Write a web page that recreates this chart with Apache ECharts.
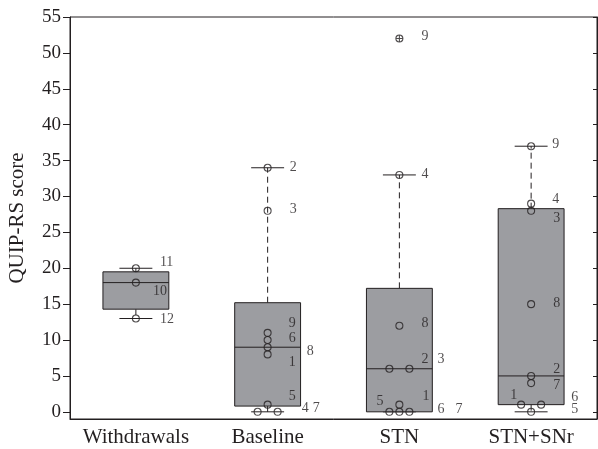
<!DOCTYPE html>
<html>
<head>
<meta charset="utf-8">
<script src="https://cdn.jsdelivr.net/npm/echarts@6/dist/echarts.min.js"></script>
<style>
  html, body { margin: 0; padding: 0; background: #fff; }
  #chart { width: 598px; height: 449px; }
</style>
</head>
<body>
<div id="chart"></div>
<script>
const categories = ["Withdrawals", "Baseline", "STN", "STN+SNr"];

// box statistics per group
const boxLow = [13, 0, 0, 0];
const boxQ1 = [14.3, 0.8, 0, 1];
const boxMedian = [18, 9, 6, 5];
const boxQ3 = [19.5, 15.2, 17.2, 28.3];
const boxHigh = [20, 34, 33, 37];

// individual patients (score + patient number)
const withdrawalsScores = [20, 18, 13];
const withdrawalsIds = ["11", "10", "12"];
const baselineScores = [34, 28, 11, 10, 9, 8, 1, 0, 0];
const baselineIds = ["2", "3", "9", "6", "8", "1", "5", "4", "7"];
const stnScores = [33, 12, 6, 6, 1, 0, 0, 0];
const stnIds = ["4", "8", "2", "3", "1", "5", "6", "7"];
const stnOutlierScores = [52];
const stnOutlierIds = ["9"];
const stnSnrScores = [37, 29, 28, 15, 5, 4, 1, 1, 0];
const stnSnrIds = ["9", "4", "3", "8", "2", "7", "1", "6", "5"];

const scoreTicks = [0, 5, 10, 15, 20, 25, 30, 35, 40, 45, 50, 55];

// label nudges [dx, dy] in px, same order as the points above
const labelNudge = [
  [[24, -6], [17, 9], [24, 1]],
  [[22, 0], [22, -1], [21, -10], [21, -2], [39, 4], [21, 8], [21, -8], [44, -3], [35, -3]],
  [[22, -1], [22, -2], [32, -9], [28, -9], [23, -8], [-13, -10], [38, -2], [46, -2]],
  [[21, -2], [21, -4], [22, 8], [22, -1], [22, -7], [22, 2], [-11, -9], [30, -7], [40, -2]]
];
const outlierNudge = [[22, -2]];

const ink = "#231f20";
const boxFill = "#9c9da1";
const font = "Liberation Serif";

// tied scores sit side by side
function dodge(scores) {
  return scores.map((v, i) => {
    const ties = scores.map((s, j) => (s === v ? j : -1)).filter(j => j >= 0);
    if (ties.length === 1) return 0;
    const k = ties.indexOf(i);
    if (ties.length === 2) return k === 0 ? -10 : 10;
    return (k - (ties.length - 1) / 2) * 10;
  });
}

function pointData(cat, scores, ids, nudges) {
  const dx = dodge(scores);
  return scores.map((v, i) => ({
    value: [cat, v],
    symbolOffset: [dx[i], 0],
    label: { formatter: ids[i], offset: nudges[i] }
  }));
}

const points = []
  .concat(pointData(0, withdrawalsScores, withdrawalsIds, labelNudge[0]))
  .concat(pointData(1, baselineScores, baselineIds, labelNudge[1]))
  .concat(pointData(2, stnScores, stnIds, labelNudge[2]))
  .concat(pointData(3, stnSnrScores, stnSnrIds, labelNudge[3]));

const outliers = pointData(2, stnOutlierScores, stnOutlierIds, outlierNudge);

const boxData = categories.map((c, i) => [i, boxLow[i], boxQ1[i], boxMedian[i], boxQ3[i], boxHigh[i]]);

function renderBox(params, api) {
  const i = api.value(0);
  const x = api.coord([i, 0])[0];
  const w = api.size([1, 0])[0] * 0.5;
  const y = k => api.coord([i, api.value(k)])[1];
  const yLow = y(1), yQ1 = y(2), yMed = y(3), yQ3 = y(4), yHigh = y(5);
  const cap = w / 4;
  const line = { stroke: ink, lineWidth: 1 };
  const dash = { stroke: ink, lineWidth: 1, lineDash: [6, 4] };
  return {
    type: "group",
    children: [
      { type: "line", shape: { x1: x, y1: yQ3, x2: x, y2: yHigh }, style: dash },
      { type: "line", shape: { x1: x, y1: yQ1, x2: x, y2: yLow }, style: dash },
      { type: "line", shape: { x1: x - cap, y1: yHigh, x2: x + cap, y2: yHigh }, style: line },
      { type: "line", shape: { x1: x - cap, y1: yLow, x2: x + cap, y2: yLow }, style: line },
      { type: "rect", shape: { x: x - w / 2, y: yQ3, width: w, height: yQ1 - yQ3 },
        style: { fill: boxFill, stroke: ink, lineWidth: 1 } },
      { type: "line", shape: { x1: x - w / 2, y1: yMed, x2: x + w / 2, y2: yMed }, style: line }
    ]
  };
}

const pointLabel = {
  show: true,
  position: "inside",
  align: "left",
  verticalAlign: "middle",
  color: ink,
  fontFamily: font,
  fontSize: 14
};

const chart = echarts.init(document.getElementById("chart"));
chart.setOption({
  animation: false,
  textStyle: { fontFamily: font, color: ink },
  grid: {
    left: 70, right: 1, top: 17, bottom: 30,
    outerBoundsMode: "none",
    containLabel: false,
    show: true, borderColor: ink, borderWidth: 1
  },
  xAxis: {
    type: "category",
    data: categories,
    boundaryGap: true,
    axisLine: { onZero: false, lineStyle: { color: ink, width: 1 } },
    axisTick: { show: false },
    axisLabel: { interval: 0, hideOverlap: false, color: ink, fontFamily: font, fontSize: 21, margin: 8 },
    splitLine: { show: false }
  },
  yAxis: [
    {
      type: "value",
      min: -1,
      max: 55,
      name: "QUIP-RS score",
      nameLocation: "middle",
      nameGap: 42,
      nameTextStyle: { color: ink, fontFamily: font, fontSize: 21 },
      axisLine: { show: true, onZero: false, lineStyle: { color: ink, width: 1 } },
      axisTick: { show: true, length: 7, customValues: scoreTicks, lineStyle: { color: ink } },
      axisLabel: { color: ink, fontFamily: font, fontSize: 19, margin: 9, customValues: scoreTicks },
      splitLine: { show: false }
    },
    {
      type: "value",
      position: "right",
      min: -1,
      max: 55,
      axisLine: { show: true, onZero: false, lineStyle: { color: ink, width: 1 } },
      axisTick: { show: true, inside: true, length: 4, customValues: scoreTicks, lineStyle: { color: ink } },
      axisLabel: { show: false },
      splitLine: { show: false }
    }
  ],
  series: [
    {
      type: "custom",
      renderItem: renderBox,
      encode: { x: 0, y: [1, 2, 3, 4, 5] },
      data: boxData,
      z: 2
    },
    {
      type: "scatter",
      data: points,
      symbol: "circle",
      symbolSize: 7,
      itemStyle: { color: "rgba(0,0,0,0)", borderColor: ink, borderWidth: 1.1 },
      label: pointLabel,
      z: 3
    },
    {
      type: "scatter",
      data: outliers,
      symbol: "path://M0,5A5,5 0 1,1 10,5A5,5 0 1,1 0,5ZM5,0L5,10M0,5L10,5",
      symbolSize: 7,
      itemStyle: { color: "rgba(0,0,0,0)", borderColor: ink, borderWidth: 1.1 },
      label: pointLabel,
      z: 3
    }
  ]
});
</script>
</body>
</html>
